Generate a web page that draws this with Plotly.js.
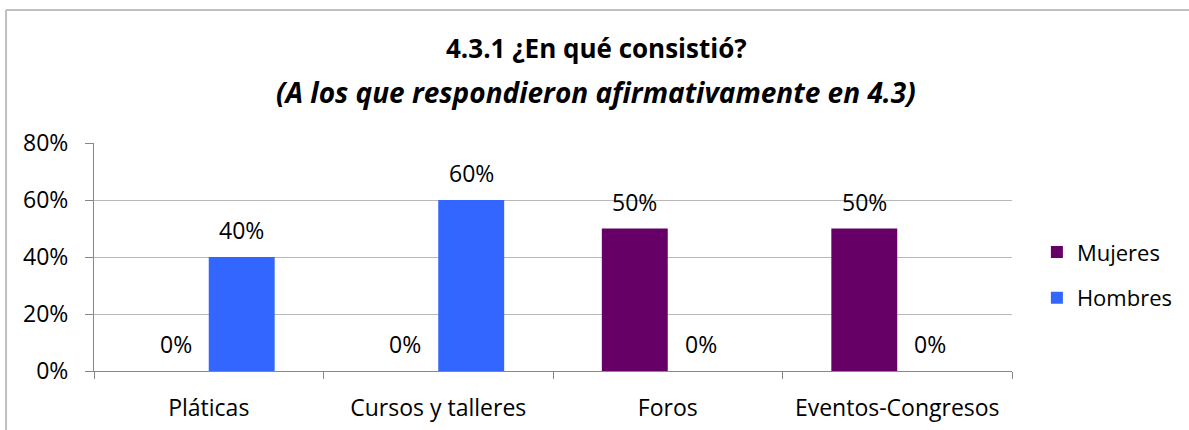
<!DOCTYPE html>
<html>
<head>
<meta charset="utf-8">
<script src="https://cdn.plot.ly/plotly-3.0.1.min.js"></script>
<style>html,body{margin:0;padding:0;background:#fff;}#chart{width:1189px;height:430px;}</style>
</head>
<body>
<div id="chart"></div>
<script>
var categories = ['Pláticas', 'Cursos y talleres', 'Foros', 'Eventos-Congresos'];
var mujeres = [0, 0, 0.5, 0.5];
var hombres = [0.4, 0.6, 0, 0];
var seriesNames = ['Mujeres', 'Hombres'];
var titleLine1 = '4.3.1 ¿En qué consistió?';
var titleLine2 = '(A los que respondieron afirmativamente en 4.3)';
var yTicks = [0, 0.2, 0.4, 0.6, 0.8];

var FONT = '"Open Sans", sans-serif';
var FS = 23;
var colors = ['#660066', '#3366FF'];
var series = [mujeres, hombres];

var traces = series.map(function (vals, i) {
  return {
    type: 'bar',
    name: seriesNames[i],
    x: categories,
    y: vals,
    marker: {color: colors[i]},
    legendgroup: 'g' + i,
    hoverinfo: 'skip'
  };
});

var annotations = [];
series.forEach(function (vals, i) {
  vals.forEach(function (v, j) {
    annotations.push({
      x: categories[j], y: v, xref: 'x', yref: 'y',
      text: Math.round(v * 100) + '%',
      showarrow: false,
      xshift: i === 0 ? -33 : 33,
      yshift: 27,
      yanchor: 'middle',
      font: {family: FONT, size: FS, color: '#000'}
    });
  });
});
annotations.push({
  xref: 'paper', yref: 'paper', x: 0.547, y: 1.417,
  text: '<b>' + titleLine1 + '</b>', showarrow: false, yanchor: 'middle',
  font: {family: FONT, size: 26, color: '#000'}
});
annotations.push({
  xref: 'paper', yref: 'paper', x: 0.547, y: 1.224,
  text: '<b><i>' + titleLine2 + '</i></b>', showarrow: false, yanchor: 'middle',
  font: {family: FONT, size: 28, color: '#000'}
});

var layout = {
  width: 1189, height: 430,
  margin: {l: 94, r: 176, t: 143, b: 59},
  paper_bgcolor: '#fff', plot_bgcolor: '#fff',
  barmode: 'group', bargap: 0.4255, bargroupgap: 0,
  font: {family: FONT, size: FS, color: '#000'},
  xaxis: {
    type: 'category', tickson: 'boundaries', ticks: 'outside', ticklen: 7, tickcolor: '#888',
    showline: true, linecolor: '#888', linewidth: 1, showgrid: false,
    tickfont: {family: FONT, size: FS, color: '#000'}, ticklabelstandoff: 16
  },
  yaxis: {
    range: [0, 0.8], tickvals: yTicks, tickformat: '.0%', ticks: 'outside', ticklen: 8, tickcolor: '#888',
    showline: true, linecolor: '#888', linewidth: 1, showgrid: true, gridcolor: '#b8b8b8', gridwidth: 1,
    zeroline: false, tickfont: {family: FONT, size: FS, color: '#000'}, ticklabelstandoff: 12
  },
  legend: {
    x: 1.026, y: 0.42, xanchor: 'left', yanchor: 'middle', traceorder: 'grouped', tracegroupgap: 14,
    font: {family: FONT, size: FS - 1, color: '#000'}, bgcolor: 'rgba(0,0,0,0)', itemwidth: 30
  },
  annotations: annotations,
  shapes: [
    {type: 'line', xref: 'paper', yref: 'paper', x0: -0.0958, x1: -0.0958, y0: -1, y1: 1.583, line: {color: '#bfbfbf', width: 2}},
    {type: 'line', xref: 'paper', yref: 'paper', x0: -0.0958, x1: 2, y0: 1.583, y1: 1.583, line: {color: '#bfbfbf', width: 2}}
  ],
  showlegend: true
};

Plotly.newPlot('chart', traces, layout, {displayModeBar: false, staticPlot: true});
</script>
</body>
</html>
